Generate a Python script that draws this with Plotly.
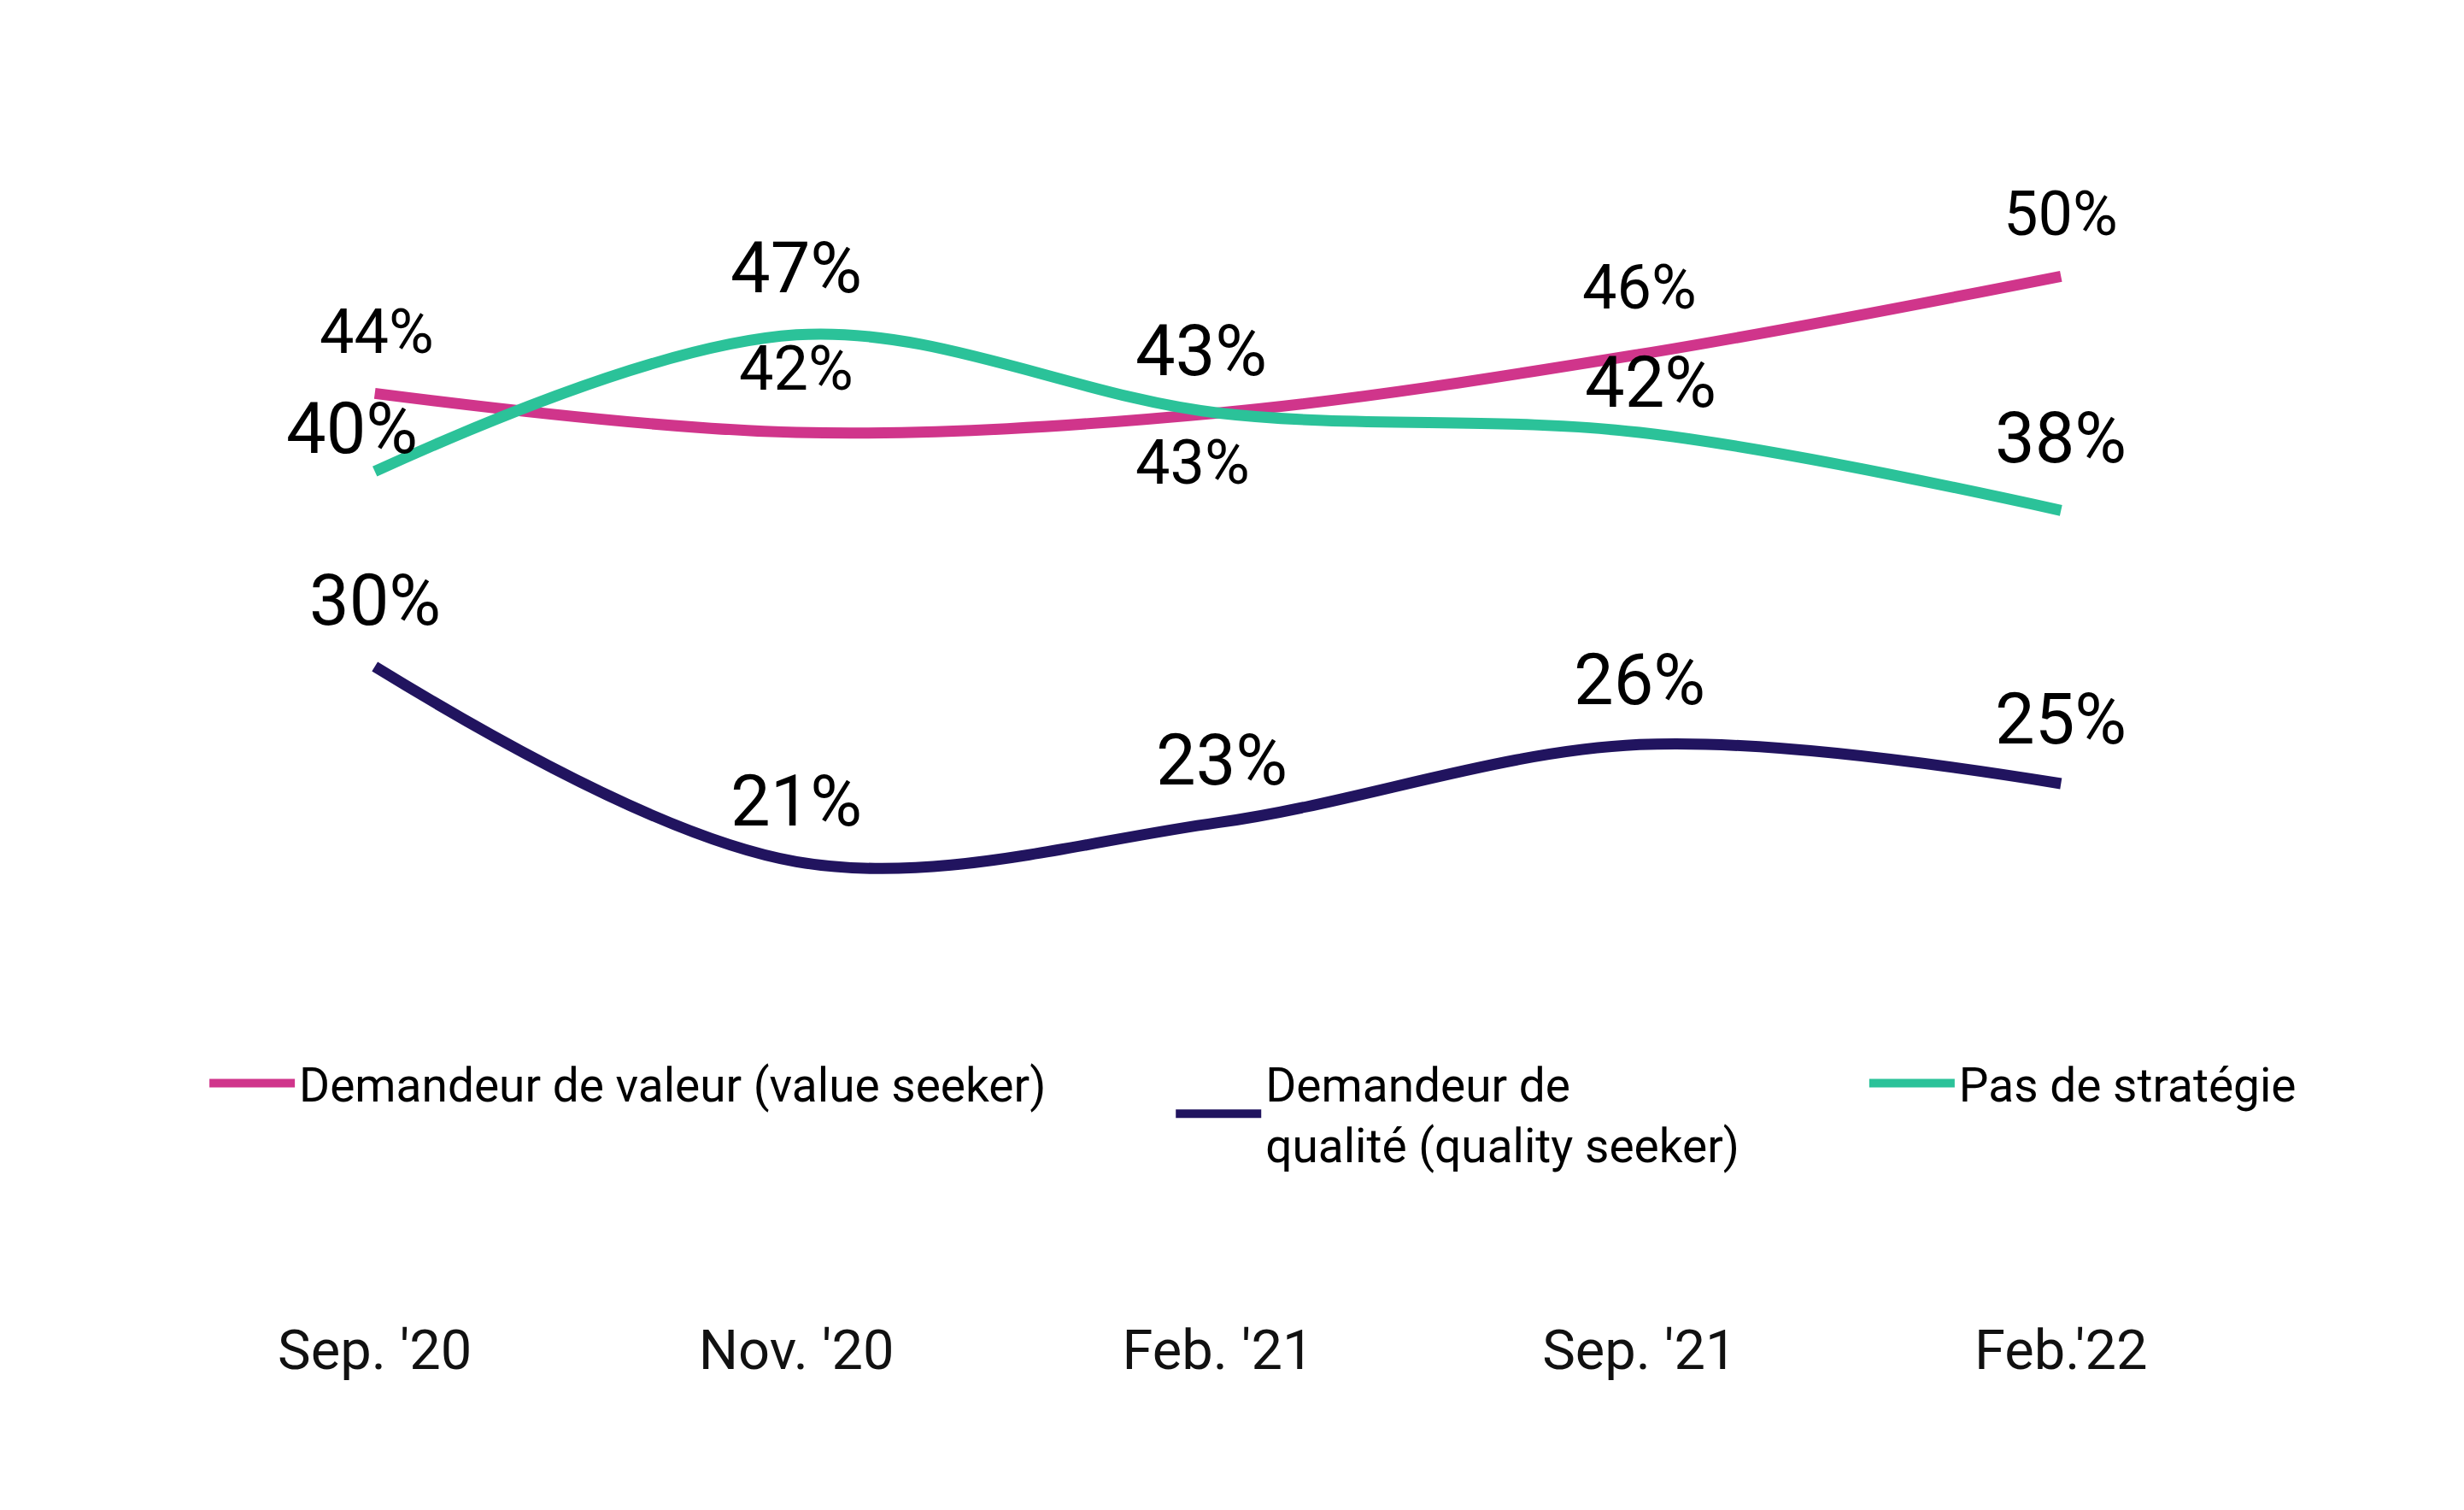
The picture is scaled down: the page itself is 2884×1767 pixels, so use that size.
import plotly.graph_objects as go

# survey waves
periods = ["Sep. '20", "Nov. '20", "Feb. '21", "Sep. '21", "Feb.'22"]

# shares (%)
value_seeker = [44, 42, 43, 46, 50]
quality_seeker = [30, 20, 22, 26, 24]
no_strategy = [40, 47, 43, 42, 38]

# printed data labels
value_labels = ["44%", "42%", "43%", "46%", "50%"]
quality_labels = ["30%", "21%", "23%", "26%", "25%"]
no_strategy_labels = ["40%", "47%", "43%", "42%", "38%"]

names = ["Demandeur de valeur (value seeker)",
         "Demandeur de<br>qualité (quality seeker)",
         "Pas de stratégie"]
colors = ["#D0358B", "#21145F", "#2BC299"]

# label offsets in px (dx, dy) and font size per series
label_shift = [
    [(2, 72), (0, 75), (-30, -58), (0, 78), (0, 73)],
    [(0, 78), (0, 71), (4, 73), (0, 76), (0, 76)],
    [(-27, 50), (0, 78), (-20, 73), (13, 59), (0, 85)],
]
label_size = [72, 83, 83]

FONT = "Roboto"

fig = go.Figure()

series = [value_seeker, quality_seeker, no_strategy]
labels = [value_labels, quality_labels, no_strategy_labels]
legends = ["legend", "legend2", "legend3"]

for i, vals in enumerate(series):
    fig.add_trace(go.Scatter(
        x=periods, y=vals, mode="lines", name=names[i],
        line=dict(color=colors[i], width=13, shape="spline", smoothing=1.0),
        legend=legends[i], hoverinfo="skip",
    ))
    for j, v in enumerate(vals):
        dx, dy = label_shift[i][j]
        fig.add_annotation(
            x=periods[j], y=v, text=labels[i][j], showarrow=False,
            xshift=dx, yshift=dy, xanchor="center", yanchor="middle",
            font=dict(family=FONT, size=label_size[i], color="#000000"),
        )

legend_common = dict(
    orientation="h", yanchor="top", xanchor="left",
    font=dict(family=FONT, size=55, color="#000000"),
    itemwidth=100, bgcolor="rgba(0,0,0,0)",
)
fig.update_layout(
    width=2884, height=1767,
    margin=dict(l=184, r=233, t=87, b=310),
    paper_bgcolor="white", plot_bgcolor="white",
    showlegend=True,
    legend=dict(x=0.0195, y=0.175, **legend_common),
    legend2=dict(x=0.478, y=0.175, **legend_common),
    legend3=dict(x=0.807, y=0.175, **legend_common),
    xaxis=dict(
        type="category", range=[-0.5, 4.5], showgrid=False, zeroline=False,
        showline=False, ticks="", ticklabelstandoff=71,
        tickfont=dict(family=FONT, size=65, color="#111111"),
    ),
    yaxis=dict(
        range=[0, 60], visible=False, showgrid=False, zeroline=False,
    ),
)

fig.write_html("out.html")
